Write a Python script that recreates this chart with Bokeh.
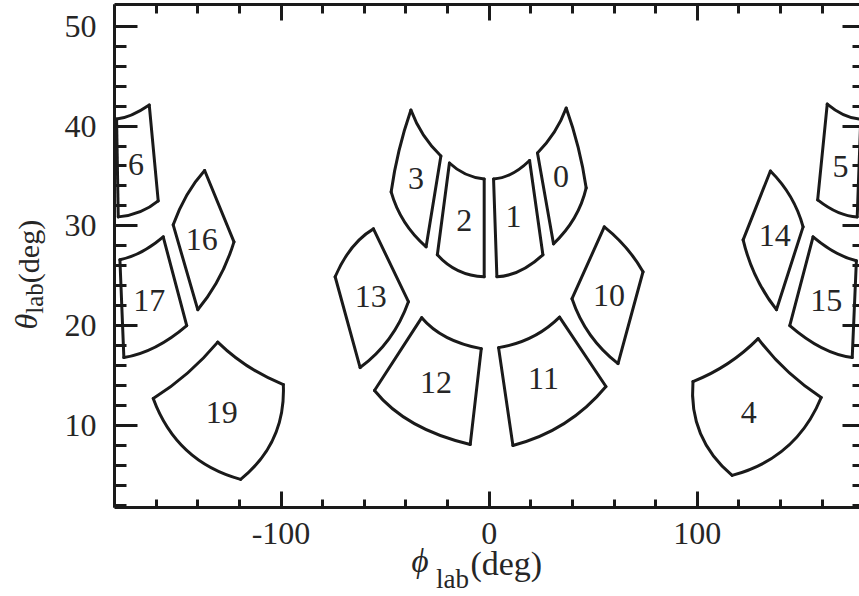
from bokeh.plotting import figure
from bokeh.models import (LinearAxis, FixedTicker, Label, ColumnDataSource, Range1d)
from bokeh.layouts import row, column
from bokeh.embed import file_html
from bokeh.resources import INLINE
from bokeh.core.properties import value

# ---------------- data (phi_lab, theta_lab in degrees) ----------------
module_ids = [0, 1, 2, 3, 4, 5, 6, 10, 11, 12, 13, 14, 15, 16, 17, 19]

# corner vertices of each module outline, in drawing order
corner_x = [
    [23.2, 37.0, 46.6, 30.9],          # 0
    [2.1, 19.4, 25.8, 3.7],            # 1
    [-19.1, -2.4, -2.4, -24.9],        # 2
    [-37.6, -23.2, -30.3, -47.1],      # 3
    [129.2, 97.9, 116.7, 159.5],       # 4
    [162.4, 178.5, 176.8, 157.8],      # 5
    [-179.0, -163.3, -159.0, -178.2],  # 6
    [55.3, 73.9, 61.9, 39.8],          # 10
    [4.5, 33.8, 56.1, 11.4],           # 11
    [-32.4, -3.8, -9.1, -55.1],        # 12
    [-55.6, -74.0, -62.0, -38.8],      # 13
    [135.1, 150.8, 138.0, 122.0],      # 14
    [155.6, 176.4, 174.4, 144.4],      # 15
    [-136.7, -151.8, -140.0, -122.6],  # 16
    [-177.4, -156.6, -145.3, -175.5],  # 17
    [-130.4, -98.9, -119.4, -161.4],   # 19
]
corner_y = [
    [37.3, 41.8, 33.8, 28.2],
    [34.7, 36.55, 27.1, 24.9],
    [36.3, 34.7, 24.9, 27.1],
    [41.6, 37.0, 27.9, 33.4],
    [18.7, 14.4, 5.0, 12.8],
    [42.2, 40.7, 30.9, 32.6],
    [40.7, 42.1, 32.5, 30.9],
    [29.9, 25.4, 16.2, 22.7],
    [17.8, 20.85, 13.9, 8.0],
    [20.8, 17.7, 8.1, 13.5],
    [29.7, 24.9, 15.8, 22.4],
    [35.5, 29.9, 21.6, 28.6],
    [28.9, 26.5, 16.8, 20.0],
    [35.55, 30.1, 21.6, 28.4],
    [26.6, 28.9, 20.0, 16.8],
    [18.35, 14.1, 4.6, 12.7],
]
# point passed half-way along each edge (None = straight edge)
bulge_x = [
    [31.3, 42.75, 40.9, None],
    [10.7, None, 14.8, None],
    [-11.4, None, -14.8, None],
    [-31.6, None, -40.7, -43.3],
    [114.6, 101.5, 142.8, 143.0],
    [170.6, None, 167.6, None],
    [-171.8, None, -167.8, None],
    [65.8, None, 48.5, None],
    [20.5, None, 36.1, None],
    [-20.5, None, -36.1, None],
    [-65.9, None, -48.1, None],
    [144.8, None, 128.2, None],
    [166.2, None, 159.6, None],
    [-145.2, None, -129.8, None],
    [-167.0, None, -160.4, None],
    [-115.7, -103.4, -145.3, -144.9],
]
bulge_y = [
    [39.4, 37.85, 30.8, None],
    [35.2, None, 25.5, None],
    [35.2, None, 25.5, None],
    [39.1, None, 30.4, 37.55],
    [16.2, 9.2, 7.8, 15.5],
    [41.1, None, 31.35, None],
    [41.1, None, 31.4, None],
    [27.8, None, 19.1, None],
    [18.85, None, 10.2, None],
    [18.85, None, 10.2, None],
    [27.8, None, 18.7, None],
    [32.9, None, 24.9, None],
    [27.35, None, 17.8, None],
    [33.1, None, 24.76, None],
    [27.4, None, 17.85, None],
    [15.9, 8.8, 7.5, 15.25],
]
label_x = [34.5, 11.7, -12.0, -35.2, 124.7, 168.75, -169.7, 57.5, 26.1, -25.5,
           -56.9, 137.2, 161.9, -138.1, -163.3, -128.5]
label_y = [34.95, 30.9, 30.5, 34.7, 11.3, 35.95, 36.15, 23.0, 14.7, 14.3,
           22.9, 29.0, 22.5, 28.6, 22.5, 11.3]

x_major_ticks = [-100, 0, 100]
x_tick_labels = ["-100", "0", "100"]
x_minor_ticks = [-180, -160, -140, -120, -80, -60, -40, -20,
                 20, 40, 60, 80, 120, 140, 160, 180]
y_major_ticks = [10, 20, 30, 40, 50]
y_minor_ticks = [2, 4, 6, 8, 12, 14, 16, 18, 22, 24, 26, 28,
                 32, 34, 36, 38, 42, 44, 46, 48]

# ---------------- style ----------------
LINE = "#1a1a1a"
TEXT = "#262626"
FONT = "Liberation Serif"

YLAB_W = 60
MAIN_W, MAIN_H = 799, 509
XSTRIP_H = 87

p = figure(width=MAIN_W, height=MAIN_H, x_range=(-180, 177.9), y_range=(1.78, 52.18),
           output_backend="svg", toolbar_location=None,
           x_axis_location=None, y_axis_location=None,
           min_border_left=54, min_border_right=0,
           min_border_top=4, min_border_bottom=2)
p.grid.visible = False
p.outline_line_color = None
p.background_fill_color = "white"
p.border_fill_color = "white"


def make_axis(ticker, maj_in, min_in, line=True, labels=False, standoff=0):
    ax = LinearAxis(ticker=ticker)
    ax.axis_line_width = 3
    ax.axis_line_color = LINE if line else None
    ax.major_tick_line_width = 3
    ax.minor_tick_line_width = 3
    ax.major_tick_line_color = LINE
    ax.minor_tick_line_color = LINE
    ax.major_tick_in = maj_in
    ax.major_tick_out = 0
    ax.minor_tick_in = min_in
    ax.minor_tick_out = 0
    ax.axis_label = None
    ax.major_label_standoff = standoff
    if labels:
        ax.major_label_text_font = FONT
        ax.major_label_text_font_size = "32px"
        ax.major_label_text_color = TEXT
    return ax


left_ax = make_axis(FixedTicker(ticks=y_major_ticks, minor_ticks=y_minor_ticks),
                    23, 12, labels=True, standoff=18)
p.add_layout(left_ax, "left")
# bottom / top / right: tick marks only (major ticks drawn as long marks)
for place, minor_pos, major_pos, min_len, maj_len, line in [
        ("below", x_minor_ticks, x_major_ticks, 8, 16, True),
        ("above", x_minor_ticks, x_major_ticks, 9, 16, True),
        ("right", y_minor_ticks, y_major_ticks, 7, 17, False)]:
    p.add_layout(make_axis(FixedTicker(ticks=[], minor_ticks=minor_pos), 0, min_len,
                           line=line), place)
    p.add_layout(make_axis(FixedTicker(ticks=[], minor_ticks=major_pos), 0, maj_len,
                           line=False), place)

# ---------------- module outlines ----------------
x0, y0, x1, y1, cx, cy = [], [], [], [], [], []
for xs, ys, bxs, bys in zip(corner_x, corner_y, bulge_x, bulge_y):
    n = len(xs)
    for i in range(n):
        j = (i + 1) % n
        mx = (xs[i] + xs[j]) / 2.0
        my = (ys[i] + ys[j]) / 2.0
        if bxs[i] is None:
            kx, ky = mx, my
        else:
            kx, ky = 2 * bxs[i] - mx, 2 * bys[i] - my
        x0.append(xs[i]); y0.append(ys[i])
        x1.append(xs[j]); y1.append(ys[j])
        cx.append(kx); cy.append(ky)

edges = ColumnDataSource(dict(x0=x0, y0=y0, x1=x1, y1=y1, cx=cx, cy=cy))
p.quadratic(x0="x0", y0="y0", x1="x1", y1="y1", cx="cx", cy="cy", source=edges,
            line_color=LINE, line_width=3, line_cap="round")

labels = ColumnDataSource(dict(x=label_x, y=label_y, t=[str(m) for m in module_ids]))
p.text(x="x", y="y", text="t", source=labels, text_font=value(FONT),
       text_font_size="32px", text_align="center", text_baseline="middle",
       text_color=TEXT)


# ---------------- strips for the x tick labels and the axis titles ----------------
def strip(w, h, x_range, y_range, border_left=0):
    f = figure(width=w, height=h, x_range=x_range, y_range=y_range,
               output_backend="svg", toolbar_location=None,
               x_axis_location=None, y_axis_location=None,
               min_border_left=border_left, min_border_right=0, min_border_top=0,
               min_border_bottom=0)
    f.grid.visible = False
    f.outline_line_color = None
    f.background_fill_color = "white"
    f.border_fill_color = "white"
    return f


def add_label(f, x, y, text, size, italic=False, angle=0):
    f.add_layout(Label(x=x, y=y, text=text, text_font=FONT, text_font_size=size,
                       text_font_style="italic" if italic else "normal",
                       text_color=TEXT, text_align="left",
                       text_baseline="alphabetic", angle=angle, angle_units="deg"))


# y title: theta_lab(deg)  (strip in page pixels, y downwards)
ylab = strip(YLAB_W, MAIN_H, Range1d(0, YLAB_W), Range1d(MAIN_H, 0))
add_label(ylab, 25, 329, "\u03b8", "32px", italic=True, angle=90)
add_label(ylab, 34, 313, "lab", "25px", angle=90)
add_label(ylab, 28, 282, "(deg)", "30px", angle=90)

# x tick labels + x title, sharing the main x range (y in page pixels)
xs_fig = strip(YLAB_W + MAIN_W, XSTRIP_H, p.x_range,
               Range1d(MAIN_H + XSTRIP_H, MAIN_H), border_left=YLAB_W + 54)
xs_fig.text(x=x_major_ticks, y=[533] * len(x_major_ticks), text=x_tick_labels,
            text_font=value(FONT), text_font_size="32px", text_align="center",
            text_baseline="middle", text_color=TEXT)
add_label(xs_fig, -37.3, 560, "\u03d5", "33px", italic=True)
add_label(xs_fig, -25.6, 578, "lab", "27px")
add_label(xs_fig, -9.0, 563, "(deg)", "34px")

layout = column(row(ylab, p, spacing=0), xs_fig, spacing=0)
open("out.html", "w").write(file_html(layout, INLINE))
